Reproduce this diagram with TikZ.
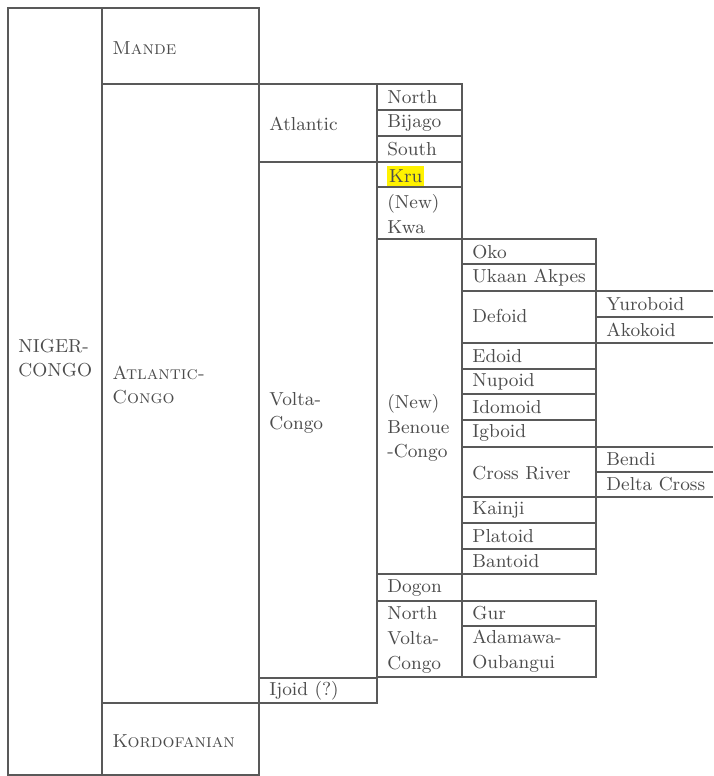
\documentclass[tikz,border=0pt]{standalone}
\usepackage{xcolor}
\usepackage{tikz}
\usetikzlibrary{positioning}

% box with its label: name, left, top, right, bottom, label y, text
\newcommand{\famcell}[7]{%
    \draw[cell] (#2,#3) rectangle (#4,#5);
    \node[famlabel] (#1) at (#2+10,#6) {#7};
}
% box open on the right edge: name, top, bottom, text
\newcommand{\opencell}[4]{%
    \draw[cell] (713,#2) -- (596,#2) -- (596,#3) -- (713,#3);
    \node[famlabel] (#1) at (606,{(#2+#3)/2}) {#4};
}

\begin{document}
\begin{tikzpicture}[
    x=0.5pt, y=-0.5pt,
    cell/.style={draw=black!65, line width=0.55pt},
    famlabel/.style={anchor=west, inner sep=0pt, align=left, text=black!70,
        font=\fontsize{9.4}{12.3}\selectfont},
    marked/.style={famlabel, fill=yellow, inner xsep=0.8pt, inner ysep=1.6pt}
]
    \useasboundingbox (0,0) rectangle (713,776);
    \famcell{nigercongo}{8}{8}{102}{775}{358}{NIGER-\\CONGO}
    \famcell{mande}{102}{8}{259}{84}{48}{\textsc{Mande}}
    \famcell{atlanticcongo}{102}{84}{259}{703}{385}{\textsc{Atlantic-}\\\textsc{Congo}}
    \famcell{kordofanian}{102}{703}{259}{775}{741}{\textsc{Kordofanian}}
    \famcell{atlantic}{259}{84}{377}{162}{124}{Atlantic}
    \famcell{voltacongo}{259}{162}{377}{678}{413}{Volta-\\Congo}
    \famcell{ijoid}{259}{678}{377}{703}{691}{Ijoid (?)}
    \famcell{north}{377}{84}{462}{110}{97}{North}
    \famcell{bijago}{377}{110}{462}{136}{123}{Bijago}
    \famcell{south}{377}{136}{462}{162}{149}{South}
    % Kru, marked
    \draw[cell] (377,162) rectangle (462,187);
    \node[marked] (kru) at (387,176) {Kru};
    \famcell{kwa}{377}{187}{462}{239}{214}{(New)\\Kwa}
    \famcell{benouecongo}{377}{239}{462}{574}{428}{(New)\\Benoue\\-Congo}
    \famcell{dogon}{377}{574}{462}{601}{588}{Dogon}
    \famcell{northvc}{377}{601}{462}{677}{640}{North\\Volta-\\Congo}
    \famcell{oko}{462}{239}{596}{264}{252}{Oko}
    \famcell{ukaan}{462}{264}{596}{291}{278}{Ukaan Akpes}
    \famcell{defoid}{462}{291}{596}{343}{316}{Defoid}
    \famcell{edoid}{462}{343}{596}{369}{356}{Edoid}
    \famcell{nupoid}{462}{369}{596}{394}{382}{Nupoid}
    \famcell{idomoid}{462}{394}{596}{420}{407}{Idomoid}
    \famcell{igboid}{462}{420}{596}{447}{433}{Igboid}
    \famcell{crossriver}{462}{447}{596}{497}{473}{Cross River}
    \famcell{kainji}{462}{497}{596}{523}{510}{Kainji}
    \famcell{platoid}{462}{523}{596}{549}{536}{Platoid}
    \famcell{bantoid}{462}{549}{596}{574}{561}{Bantoid}
    \famcell{gur}{462}{601}{596}{626}{613}{Gur}
    \famcell{adamawa}{462}{626}{596}{677}{651}{Adamawa-\\Oubangui}
    \opencell{yuroboid}{291}{317}{Yuroboid}
    \opencell{akokoid}{317}{343}{Akokoid}
    \opencell{bendi}{447}{472}{Bendi}
    \opencell{deltacross}{472}{497}{Delta Cross}
\end{tikzpicture}
\end{document}
